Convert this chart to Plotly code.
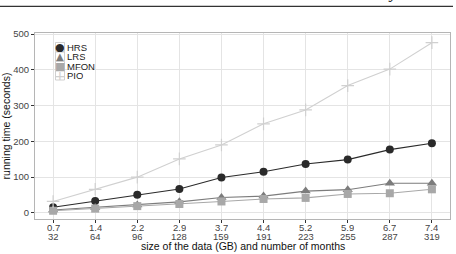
import plotly.graph_objects as go

sizes_gb = ["0.7", "1.4", "2.2", "2.9", "3.7", "4.4", "5.2", "5.9", "6.7", "7.4"]
months = ["32", "64", "96", "128", "159", "191", "223", "255", "287", "319"]
hrs = [16, 33, 51, 67, 99, 115, 137, 149, 177, 195]
lrs = [8, 15, 22, 31, 43, 47, 61, 65, 83, 83]
mfon = [6, 12, 19, 25, 32, 39, 42, 53, 55, 66]
pio = [32, 66, 100, 151, 190, 249, 288, 356, 402, 476]
y_ticks = [0, 100, 200, 300, 400, 500]

xpos = list(range(len(sizes_gb)))

series = [
    ("HRS", hrs, "#2a2a2a", "#2a2a2a", "circle", 8, "●"),
    ("LRS", lrs, "#7c7c7c", "#7c7c7c", "triangle-up", 9, "▲"),
    ("MFON", mfon, "#a8a8a8", "#a8a8a8", "square", 8, "■"),
    ("PIO", pio, "#d0d0d0", "#d0d0d0", "cross-thin-open", 9, "+"),
]

fig = go.Figure()
for name, vals, lc, mc, sym, ms, _ in series:
    marker = dict(symbol=sym, size=ms, color=mc)
    if sym == "cross-thin-open":
        marker["line"] = dict(color=mc, width=1.2)
    fig.add_trace(go.Scatter(
        x=xpos, y=vals, mode="lines+markers", name=name,
        line=dict(color=lc, width=1.1), marker=marker, showlegend=False))

L, R, T, B = 35, 6, 33, 35
W, H = 456, 254
pw, ph = W - L - R, H - T - B

def px_x(p):
    return (p - L) / pw

def px_y(p):
    return 1 - (p - T) / ph

annotations = []
shapes = []

# two-row x tick labels, placed on the category axis
for i, (a, b) in enumerate(zip(sizes_gb, months)):
    for txt, yc in ((a, 226.5), (b, 236.5)):
        annotations.append(dict(x=i, y=px_y(yc), xref="x", yref="paper", text=txt,
                                showarrow=False, xanchor="center", yanchor="middle",
                                borderpad=0, height=10,
                                font=dict(size=9.5, color="#444", family="Liberation Sans, Arial")))

rows = [47, 56.5, 66, 75.5]
for (name, vals, lc, mc, sym, ms, glyph), yc in zip(series, rows):
    shapes.append(dict(type="rect", xref="paper", yref="paper",
                       x0=px_x(55.5), x1=px_x(64.5), y0=px_y(yc + 4.5), y1=px_y(yc - 4.5),
                       line=dict(color="#c4c4c4", width=0.8), fillcolor="white", layer="above"))
    gsize = {"●": 11, "▲": 10, "■": 11, "+": 14}[glyph]
    annotations.append(dict(x=px_x(60), y=px_y(yc), xref="paper", yref="paper",
                            text=glyph, showarrow=False, xanchor="center", yanchor="middle",
                            borderpad=0, height=9,
                            font=dict(size=gsize, color=mc, family="DejaVu Sans")))
    annotations.append(dict(x=px_x(65.5), y=px_y(yc), xref="paper", yref="paper",
                            text=name, showarrow=False, xanchor="left", yanchor="middle",
                            borderpad=0, height=9,
                            font=dict(size=9.5, color="#222", family="Liberation Sans, Arial")))

# x axis title
annotations.append(dict(x=0.5, y=px_y(246), xref="paper", yref="paper",
                        text="size of the data (GB) and number of months", showarrow=False,
                        xanchor="center", yanchor="middle", borderpad=0,
                        font=dict(size=10.5, color="#111", family="Liberation Sans, Arial")))

# page header (cut off at top)
annotations.append(dict(x=px_x(452), y=px_y(4), xref="paper", yref="paper",
                        text="<i>L. Cabot Kanyer et al.</i>", showarrow=False,
                        xanchor="right", yanchor="bottom",
                        font=dict(size=17, color="#111", family="Liberation Serif, Times New Roman")))
shapes.append(dict(type="line", xref="paper", yref="paper",
                   x0=px_x(0), x1=px_x(453), y0=px_y(6.3), y1=px_y(6.3),
                   line=dict(color="#333", width=1.2)))

fig.update_layout(
    width=W, height=H,
    margin=dict(l=L, r=R, t=T, b=B, pad=0, autoexpand=False),
    paper_bgcolor="white", plot_bgcolor="white",
    font=dict(family="Liberation Sans, Arial", color="#333"),
    annotations=annotations, shapes=shapes,
    xaxis=dict(
        tickmode="array", tickvals=xpos, showticklabels=False,
        range=[-0.43, 9.43], showgrid=True, gridcolor="#e4e4e4", gridwidth=1,
        ticks="outside", ticklen=3, tickcolor="#333", tickwidth=1,
        automargin=False,
        showline=True, linecolor="#b5b5b5", linewidth=1, mirror=True, zeroline=False,
    ),
    yaxis=dict(
        tickmode="array", tickvals=y_ticks, range=[-17, 503],
        showgrid=True, gridcolor="#e4e4e4", gridwidth=1,
        ticks="outside", ticklen=3, tickcolor="#333", tickwidth=1,
        tickfont=dict(size=9.5, color="#444"), automargin=False,
        showline=True, linecolor="#b5b5b5", linewidth=1, mirror=True, zeroline=False,
        title=dict(text="running time (seconds)", standoff=4,
                   font=dict(size=10.5, color="#111")),
    ),
)

fig.write_html("out.html")
